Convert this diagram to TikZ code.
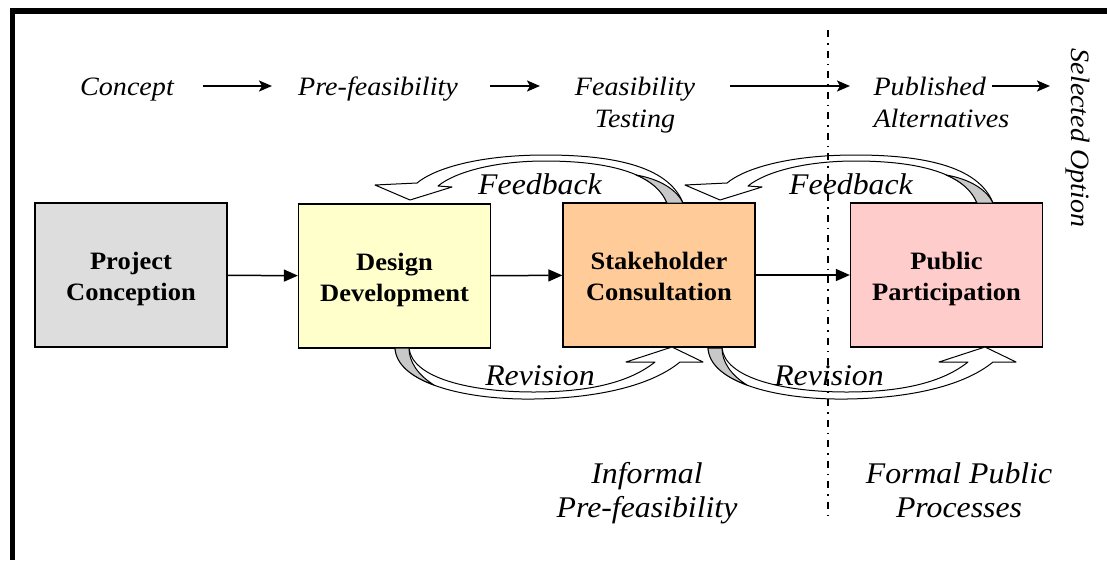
\documentclass[tikz,border=0pt]{standalone}
\usepackage{fontspec}
\setmainfont{Liberation Serif}[FakeStretch=1.06]
\usetikzlibrary{arrows.meta}

\definecolor{conceptgray}{HTML}{DDDDDD}
\definecolor{designyellow}{HTML}{FFFFCC}
\definecolor{stakeorange}{HTML}{FFCC99}
\definecolor{publicpink}{HTML}{FFCCCC}
\definecolor{bandgray}{HTML}{C8C8C8}

\begin{document}
\begin{tikzpicture}[x=1pt, y=-1pt,
	stage/.style={draw, line width=1.3pt, minimum width=192pt, minimum height=144pt,
		align=center, text height=50pt, text depth=0pt,
		font=\bfseries\fontsize{25}{31}\selectfont},
	phase/.style={anchor=base, font=\itshape\fontsize{26.5}{32}\selectfont},
	looplabel/.style={anchor=base, font=\itshape\fontsize{30}{36}\selectfont},
	remark/.style={anchor=base, align=center, font=\itshape\fontsize{30}{34}\selectfont},
	flow/.style={-{Triangle[length=14pt, width=12pt]}, line width=1.5pt},
	phasearrow/.style={-{Stealth[length=13pt, width=11pt, inset=3pt]}, line width=2pt},
	band/.style={fill=white, draw, line width=1pt, line join=round},
	twist/.style={fill=bandgray, draw, line width=1pt, line join=round},
	divider/.style={line width=1.3pt, dash pattern=on 7pt off 6pt on 1.5pt off 6pt}]
	\useasboundingbox (0, 0) rectangle (1107, 560);

	% frame: only the top and left edges
	\draw[line width=5.5pt] (9.75, 11) -- (1107, 11);
	\draw[line width=5.5pt] (12.5, 8.25) -- (12.5, 560);

	% stages
	\node[stage, fill=conceptgray] (concept) at (131, 275) {Project\\Conception};
	\node[stage, fill=designyellow] (design) at (394.5, 276) {Design\\Development};
	\node[stage, fill=stakeorange] (stake) at (659, 275) {Stakeholder\\Consultation};
	\node[stage, fill=publicpink] (public) at (946.5, 275) {Public\\Participation};

	\draw[flow] (concept) -- (design);
	\draw[flow] (design) -- (stake);
	\draw[flow] (stake) -- (public);

	% phases along the top (base of a two-line node is its last line)
	\node[phase] (idea) at (127, 95) {Concept};
	\node[phase] (prefeas) at (378, 95) {Pre-feasibility};
	\node[phase, align=center] (feas) at (635, 127) {Feasibility\\Testing};
	\node[phase, align=left, anchor=base west] (pub) at (870, 127) {Published\\Alternatives};
	\node[phase, rotate=-90, anchor=center] (chosen) at (1078, 138) {Selected Option};

	\draw[phasearrow] (idea.base) ++(76, -9) -- ++(69, 0);
	\draw[phasearrow] (prefeas.base) ++(112, -9) -- ++(50, 0);
	\draw[phasearrow] (feas.base) ++(95, -41) -- ++(120, 0);
	\draw[phasearrow] (pub.base west) ++(122, -41) -- ++(58, 0);

	% feedback loops over the top
	\draw[band] (683, 203) .. controls (668, 165) and (610, 155) .. (545, 155)
		.. controls (480, 155) and (435, 168) .. (417, 183)
		-- (375, 185) -- (410, 200) -- (452, 187) -- (438, 186)
		.. controls (455, 172) and (495, 161) .. (545, 161)
		.. controls (605, 161) and (655, 172) .. (667, 203) -- cycle;
	\draw[twist] (636, 175) .. controls (651, 181) and (662, 191) .. (667, 203)
		-- (683, 203) .. controls (677, 190) and (660, 179) .. (636, 175) -- cycle;
	\begin{scope}[xshift=310pt]
		\draw[band] (683, 203) .. controls (668, 165) and (610, 155) .. (545, 155)
			.. controls (480, 155) and (435, 168) .. (417, 183)
			-- (375, 185) -- (410, 200) -- (452, 187) -- (438, 186)
			.. controls (455, 172) and (495, 161) .. (545, 161)
			.. controls (605, 161) and (655, 172) .. (667, 203) -- cycle;
		\draw[twist] (636, 175) .. controls (651, 181) and (662, 191) .. (667, 203)
			-- (683, 203) .. controls (677, 190) and (660, 179) .. (636, 175) -- cycle;
	\end{scope}
	\node[looplabel] (fb1) at (540, 194) {Feedback};
	\node[looplabel] (fb2) at (851, 194) {Feedback};

	% revision loops underneath
	\draw[band] (395, 348) .. controls (398, 385) and (470, 400) .. (534, 399)
		.. controls (600, 398) and (652, 385) .. (680, 362)
		-- (703, 362) -- (672, 347) -- (626, 362) -- (655, 362)
		.. controls (630, 382) and (590, 392) .. (534, 392)
		.. controls (470, 392) and (412, 378) .. (409, 348) -- cycle;
	\draw[twist] (395, 348) .. controls (396, 365) and (412, 377) .. (434, 385)
		.. controls (418, 375) and (409, 362) .. (409, 348) -- cycle;
	\begin{scope}[xshift=313pt]
		\draw[band] (395, 348) .. controls (398, 385) and (470, 400) .. (534, 399)
			.. controls (600, 398) and (652, 385) .. (680, 362)
			-- (703, 362) -- (672, 347) -- (626, 362) -- (655, 362)
			.. controls (630, 382) and (590, 392) .. (534, 392)
			.. controls (470, 392) and (412, 378) .. (409, 348) -- cycle;
		\draw[twist] (395, 348) .. controls (396, 365) and (412, 377) .. (434, 385)
			.. controls (418, 375) and (409, 362) .. (409, 348) -- cycle;
	\end{scope}
	\node[looplabel] (rev1) at (540, 385) {Revision};
	\node[looplabel] (rev2) at (829, 385) {Revision};

	% informal / formal split
	\node[remark] (informal) at (647, 517) {Informal\\Pre-feasibility};
	\node[remark] (formal) at (959, 517) {Formal Public\\Processes};
	\draw[divider] (828, 30) -- (828, 515);
\end{tikzpicture}
\end{document}
